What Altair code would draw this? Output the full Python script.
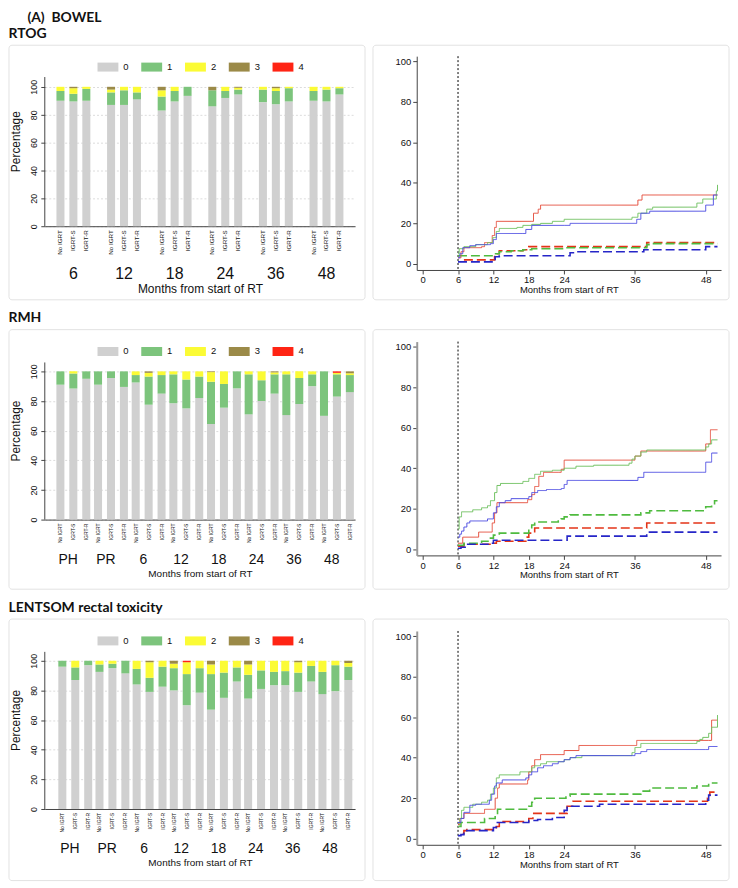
import altair as alt
import pandas as pd

FONT = "Liberation Sans"
TITLE_FONT = "Lato"

ARMS = ["No IGRT", "IGRT-S", "IGRT-R"]
GRADES = ["0", "1", "2", "3", "4"]
GRADE_COLORS = ["#d0d0d0", "#7cc47c", "#fbfb35", "#9b8a48", "#ff2414"]

# ---------------- stacked bar data (order: group x [No IGRT, IGRT-S, IGRT-R]) ----------
RTOG_GROUPS = ["6", "12", "18", "24", "36", "48"]
RTOG_G0 = [90, 89.5, 90, 87, 87, 91, 83, 89.5, 93.5, 86, 92, 94.5, 89, 87.5, 89.5, 90, 89.5, 94.5]
RTOG_G1 = [7, 5.5, 8.5, 9, 10.5, 5, 10, 7.5, 6.5, 11.5, 5, 3.5, 9, 9.5, 9.5, 7, 8.5, 4.5]
RTOG_G2 = [3, 4, 1.5, 2, 2.5, 4, 4.5, 3, 0, 0, 3, 1.3, 2, 2, 1, 3, 2, 1]
RTOG_G3 = [0, 1, 0, 2, 0, 0, 2.5, 0, 0, 2.5, 0, 0.7, 0, 1, 0, 0, 0, 0]
RTOG_G4 = [0, 0, 0, 0, 0, 0, 0, 0, 0, 0, 0, 0, 0, 0, 0, 0, 0, 0]

LONG_GROUPS = ["PH", "PR", "6", "12", "18", "24", "36", "48"]
RMH_G0 = [91, 88.5, 95, 91, 95.5, 89.5, 92.5, 77.5, 85, 78.5, 75, 82, 64.5, 75.5, 88.5, 71, 80, 85, 70.5, 78, 90, 70, 83, 86]
RMH_G1 = [9, 10, 5, 9, 4.5, 10.5, 5, 19, 12.5, 19.5, 19.5, 14.5, 28.5, 16, 11.5, 27, 14, 13, 27.5, 17.5, 8, 30, 15, 11.5]
RMH_G2 = [0, 1.5, 0, 0, 0, 0, 2.5, 2.5, 2.5, 2, 5.5, 3.5, 6.5, 8.5, 0, 2, 6, 1.3, 2, 4.5, 2, 0, 1, 1.2]
RMH_G3 = [0, 0, 0, 0, 0, 0, 0, 1, 0, 0, 0, 0, 0.5, 0, 0, 0, 0, 0.7, 0, 0, 0, 0, 0, 1.3]
RMH_G4 = [0, 0, 0, 0, 0, 0, 0, 0, 0, 0, 0, 0, 0, 0, 0, 0, 0, 0, 0, 0, 0, 0, 1, 0]

LEN_G0 = [96, 87, 97, 92.5, 95, 91.5, 84, 79, 82.5, 80, 70, 78.5, 67, 75, 86, 74.5, 81, 83.5, 83.5, 79, 86, 77.5, 79.5, 87]
LEN_G1 = [4, 8.5, 3, 5, 3, 8.5, 10.5, 9.5, 13.5, 15, 21, 16.5, 24, 17, 9.5, 16, 12.5, 9, 9.5, 13, 10.5, 15, 17.5, 9]
LEN_G2 = [0, 4.5, 0, 2.5, 2, 0, 5.5, 10.5, 4, 3, 8, 5, 6.5, 8, 4.5, 7, 6.5, 7.5, 7, 7, 3.5, 7.5, 3, 2.5]
LEN_G3 = [0, 0, 0, 0, 0, 0, 0, 1, 0, 2, 0, 0, 2.5, 0, 0, 2.5, 0, 0, 0, 1, 0, 0, 0, 1.5]
LEN_G4 = [0, 0, 0, 0, 0, 0, 0, 0, 0, 0, 1, 0, 0, 0, 0, 0, 0, 0, 0, 0, 0, 0, 0, 0]

# ---------------- cumulative incidence step curves (months, %) ----------------
KM_SERIES = ["No IGRT G2+", "IGRT-S G2+", "IGRT-R G2+", "No IGRT G1+", "IGRT-S G1+", "IGRT-R G1+"]
KM_COLORS = ["#e33418", "#4fbb3f", "#2626c8", "#e5503e", "#6fc160", "#4e4ee2"]
KM_DASH = [[9, 4], [9, 4], [9, 4], [1, 0], [1, 0], [1, 0]]
KM_WIDTHS = [1.6, 1.6, 1.6, 1, 1, 1]

RTOG_RED_S = [(6, 3), (6.5, 6), (7, 8), (10, 8.5), (10.5, 10.5), (11.8, 14), (12.2, 18), (12.5, 21), (18.5, 21), (18.8, 25), (19.6, 27), (20, 29), (36.3, 29), (36.5, 31.5), (37.2, 34), (50, 34)]
RTOG_GREEN_S = [(6, 5), (6.2, 7.5), (7, 8.5), (9, 9.5), (11, 10.5), (11.9, 13), (12.5, 16), (13, 17.5), (16, 18), (17, 19), (18.5, 19.5), (20, 20), (22, 21), (24, 22), (35, 22), (35.5, 23), (36.5, 25), (38, 27), (39, 28), (46, 28), (46.5, 30), (47.5, 32), (49.6, 32), (49.8, 36), (50, 39)]
RTOG_BLUE_S = [(6, 3), (6.3, 5), (6.8, 8), (8, 9), (9, 9.5), (11.5, 10), (12, 12), (12.5, 15), (17, 15), (17.5, 17), (18.5, 19), (24, 19), (25, 20), (36, 20), (36.3, 22), (37, 25), (38.5, 26), (47.5, 26), (48, 29), (49.3, 34), (50, 34)]
RTOG_RED_D = [(7, 2), (12, 2), (12.2, 5), (13, 6.5), (17, 7), (18, 8.5), (37.5, 8.5), (38, 10.5), (50, 10.5)]
RTOG_GREEN_D = [(6, 4), (11.5, 4), (12, 5), (13, 6), (15, 6.5), (17, 7), (18.5, 7.5), (24, 8), (37.5, 8), (38, 9.5), (39, 10), (50, 10)]
RTOG_BLUE_D = [(6, 1), (11.8, 1), (12.3, 3.5), (13, 4), (24.5, 4), (25, 5.5), (26, 6), (37, 6), (37.5, 7), (47.8, 7), (48, 8.5), (50, 8.5)]

RMH_RED_S = [(6, 3), (6.8, 6), (9.5, 8.5), (11.8, 13), (12.2, 18), (12.6, 23), (17.5, 23), (17.8, 24.5), (18.5, 27), (19, 31), (19.7, 36), (20.5, 38), (23, 38), (23.5, 39.5), (24, 44), (35.5, 44), (36, 46), (37, 48.5), (47.8, 48.5), (48, 52), (48.8, 59), (50, 59)]
RMH_GREEN_S = [(6, 10), (6.2, 16), (6.6, 18.5), (8.5, 19.5), (10, 20.5), (11, 21.5), (11.5, 24), (12.2, 28), (12.6, 31.5), (13.2, 32.5), (17, 33.5), (18, 35), (19, 37), (20, 38.5), (22, 39), (24, 40), (26, 41), (29, 41.5), (35, 42.5), (35.5, 44.5), (36, 46), (37, 48), (38, 49), (47.5, 49), (48, 50.5), (48.5, 52), (49, 54), (50, 54)]
RMH_BLUE_S = [(6, 6), (6.3, 7.5), (6.6, 9), (7, 11), (7.5, 13), (8, 14), (10.5, 14), (11, 15), (11.5, 15), (12, 18), (12.5, 21), (13, 23), (14, 24), (15, 25), (17.5, 25), (18, 26), (18.5, 28), (19.5, 29), (21, 29.5), (23, 29.5), (23.5, 30), (24, 32), (24.5, 34), (36, 34), (36.5, 35.5), (37.5, 38), (47.5, 38), (48, 43), (49, 47.5), (50, 47.5)]
RMH_RED_D = [(6, 1.5), (7, 2.5), (12, 3), (12.5, 4), (17, 4), (17.5, 6), (18, 8), (19, 10.5), (37.5, 10.5), (38, 13), (50, 13)]
RMH_GREEN_D = [(6, 2), (7, 3), (10, 4), (11.5, 5.5), (12, 7), (13, 8), (17.5, 8), (18, 10), (18.5, 12), (19, 13.5), (23, 14), (23.5, 15), (24, 16), (25, 17), (36, 17), (37, 18), (38.5, 19), (47.5, 19), (48, 21), (49, 22), (49.5, 24), (50, 24)]
RMH_BLUE_D = [(6, 0.5), (6.5, 1), (7.5, 2.5), (11.5, 3), (12, 4.5), (24, 4.5), (24.5, 6.5), (37.5, 6.5), (38, 8.5), (50, 8.5)]

LEN_RED_S = [(6, 7), (6.3, 10), (7, 12.5), (10, 12.5), (10.5, 14.5), (12, 14.5), (12.3, 20), (12.7, 25), (13, 27), (17.5, 27), (17.8, 29), (18, 33), (18.5, 36), (19, 39), (20, 41.5), (23.5, 41.5), (24, 43.5), (26, 43.5), (26.5, 46), (36, 46), (36.3, 48.5), (48.5, 48.5), (49, 58.5), (50, 58.5)]
LEN_GREEN_S = [(6, 6), (6.3, 10), (6.6, 14), (7, 15.5), (8, 15.5), (8.5, 17), (10, 18), (11, 19), (11.5, 22), (12, 25), (12.5, 30), (13, 31.5), (16, 31.5), (16.5, 33), (18, 33), (18.5, 35), (19, 36), (20, 37), (21, 38), (24, 39), (25, 40), (27, 41), (35, 41), (35.5, 42.5), (36, 45), (37, 47), (46, 47), (46.5, 48), (47, 49), (47.5, 50), (48.5, 52), (49, 55), (49.7, 55), (50, 61)]
LEN_BLUE_S = [(6, 8), (6.5, 10), (7, 13), (8, 16.5), (9, 17), (11, 17), (11.3, 19), (11.7, 22), (12.2, 26), (12.5, 27.5), (13, 27.5), (13.5, 29), (17, 29), (17.5, 30), (18, 31.5), (18.5, 33), (19.5, 35), (20.5, 36), (22, 37), (23, 38), (24, 39), (25, 40), (26, 41), (35.5, 41), (36, 42), (37, 43), (38, 44), (48, 44), (48.5, 45.5), (50, 45.5)]
LEN_RED_D = [(6.8, 2.5), (7, 4), (7.5, 4.5), (12, 4.5), (12.5, 6), (13, 8.5), (17.5, 8.5), (18, 10), (18.7, 12.5), (23.5, 12.5), (24.5, 16), (25.5, 18.5), (48, 18.5), (48.3, 20), (48.7, 23), (50, 23)]
LEN_GREEN_D = [(6, 6), (6.5, 8), (10, 8), (10.5, 10), (12, 10), (12.3, 12), (12.7, 14.5), (17.5, 14.5), (18, 16), (18.5, 18), (19, 20), (24, 20), (24.3, 21), (25, 22), (36, 22), (37, 23.5), (38.5, 25), (46, 25), (46.5, 26), (48.5, 27.5), (50, 27.5)]
LEN_BLUE_D = [(6, 1.5), (6.5, 2), (7, 4), (11.5, 4), (12, 5.5), (12.5, 8), (17.5, 8), (18, 9), (19.5, 9.5), (22, 10.5), (23.5, 10.5), (24, 14), (24.5, 16), (27, 16), (30, 17), (47.5, 17), (48, 19), (48.5, 21.5), (50, 21.5)]

X_TITLE = "Months from start of RT"
TXT = "#111111"
AX = "#444444"
TOP_OFF = 21  # plot-area top of the bar panels is shared with the KM panels


def frame_layer(x1, x2, y1, y2):
    return alt.Chart(alt.Data(values=[{"f": 1}])).mark_rect(
        fillOpacity=0, stroke="#e2e2e2", strokeWidth=1, cornerRadius=3
    ).encode(x=alt.value(x1), x2=alt.value(x2), y=alt.value(y1), y2=alt.value(y2))


def bar_panel(groups, vals, w, h, ymax, gpi, gpo, opi, opo, arm_fs, grp_fs, grp_pad,
              title_fs, fy1, fy2, legend_y):
    H = h + TOP_OFF
    dmax = ymax * H / h
    rows = []
    for gi, g in enumerate(groups):
        for ai, a in enumerate(ARMS):
            for k, gr in enumerate(GRADES):
                v = vals[k][gi * 3 + ai]
                if v > 0:
                    rows.append({"group": g, "arm": a, "grade": gr, "pct": v})
    df = pd.DataFrame(rows)
    lab = pd.DataFrame([{"group": g, "arm": a} for g in groups for a in ARMS])

    xenc = alt.X("group:N", sort=groups,
                 scale=alt.Scale(paddingInner=gpi, paddingOuter=gpo),
                 axis=alt.Axis(title=X_TITLE, labelAngle=0, ticks=False, labelPadding=grp_pad,
                               labelFontSize=grp_fs, labelFont=FONT, labelColor=TXT,
                               titleFontSize=title_fs, titleFont=FONT, titleFontWeight="normal",
                               titleColor=TXT, titlePadding=2, domainColor=AX, grid=False))
    xoff = alt.XOffset("arm:N", sort=ARMS, scale=alt.Scale(paddingInner=opi, paddingOuter=opo))
    yenc = alt.Y("pct:Q", stack="zero", scale=alt.Scale(domain=[0, dmax], nice=False),
                 axis=alt.Axis(title="Percentage", values=[0, 20, 40, 60, 80, 100],
                               labelAngle=-90, labelAlign="center", labelBaseline="bottom",
                               labelFontSize=9, labelFont=FONT, labelColor=TXT, labelPadding=2,
                               tickSize=4, tickColor=AX, domain=False,
                               titleFontSize=12, titleFont=FONT, titleFontWeight="normal",
                               titleColor=TXT, titlePadding=7,
                               grid=True, gridDash=[2, 2], gridColor="#dcdcdc"))

    bars = alt.Chart(df).mark_bar().encode(
        x=xenc,
        xOffset=xoff,
        y=yenc,
        color=alt.Color("grade:N", scale=alt.Scale(domain=GRADES, range=GRADE_COLORS),
                        legend=alt.Legend(title=None, orient="none", legendX=53,
                                          legendY=legend_y + TOP_OFF,
                                          direction="horizontal", columns=5,
                                          symbolType="M-1,-0.43H1V0.43H-1Z", symbolSize=441,
                                          symbolStrokeWidth=0, symbolOpacity=1,
                                          labelFontSize=9.5, labelFont=FONT, labelColor=TXT,
                                          labelOffset=5, columnPadding=12, padding=0)),
        order=alt.Order("grade:N", sort="ascending"),
    )
    # y-axis line, from 0 up to the top of the value axis
    axis_line = alt.Chart(alt.Data(values=[{"pct": 0, "pct_top": ymax}])).mark_rule(
        color=AX, strokeWidth=1).encode(x=alt.value(0), y=yenc, y2="pct_top:Q")
    labels = alt.Chart(lab).mark_text(angle=270, align="right", baseline="middle",
                                      fontSize=arm_fs, font=FONT, color=TXT).encode(
        x=xenc, xOffset=xoff, y=alt.value(H + 4), text="arm:N")
    return alt.layer(frame_layer(-36, w + 10, fy1 + TOP_OFF, fy2 + TOP_OFF),
                     bars, axis_line, labels).properties(width=w, height=H)


def km_panel(series_pts, w, h, fy1, fy2, dom_color, dom_width):
    xenc = alt.X("t:Q", scale=alt.Scale(domain=[-1, 50.6], nice=False, zero=False),
                 axis=alt.Axis(values=[0, 6, 12, 18, 24, 36, 48], title=X_TITLE, grid=False,
                               labelFontSize=9.5, labelFont=FONT, labelColor=TXT, labelPadding=1,
                               tickSize=4, tickColor=AX, domainColor=AX,
                               titleFontSize=9.5, titleFont=FONT, titleFontWeight="normal",
                               titleColor=TXT, titlePadding=0))
    yenc = alt.Y("v:Q", scale=alt.Scale(domain=[-3, 102.5], nice=False, zero=False),
                 axis=alt.Axis(values=[0, 20, 40, 60, 80, 100], title=None, grid=False,
                               labelFontSize=9.5, labelFont=FONT, labelColor=TXT, labelPadding=2,
                               tickSize=4, tickColor=AX, domainColor=dom_color,
                               domainWidth=dom_width))
    layers = [frame_layer(-44, w + 8, fy1, fy2)]
    rule = alt.Chart(alt.Data(values=[{"t": 6}])).mark_rule(
        strokeDash=[2, 2], color="#000000", strokeWidth=1).encode(x=xenc)
    layers.append(rule)
    for name, pts, col, dash, sw in zip(KM_SERIES, series_pts, KM_COLORS, KM_DASH, KM_WIDTHS):
        df = pd.DataFrame({"t": [p[0] for p in pts], "v": [p[1] for p in pts]})
        layers.append(alt.Chart(df).mark_line(interpolate="step-after", color=col,
                                              strokeDash=dash, strokeWidth=sw).encode(x=xenc, y=yenc))
    return alt.layer(*layers).properties(width=w, height=h)


def row_title(text):
    return alt.TitleParams(text, anchor="start", fontSize=14, font=TITLE_FONT,
                           fontWeight="bold", color=TXT, offset=4)


bar1 = bar_panel(RTOG_GROUPS, [RTOG_G0, RTOG_G1, RTOG_G2, RTOG_G3, RTOG_G4], 312, 150, 107,
                 0.2, 0.165, 0.38, 0.255, 6.3, 16, 40, 12, -32, 224, -21)
km1 = km_panel([RTOG_RED_D, RTOG_GREEN_D, RTOG_BLUE_D, RTOG_RED_S, RTOG_GREEN_S, RTOG_BLUE_S],
               306, 215, -11, 245, AX, 1)

bar2 = bar_panel(LONG_GROUPS, [RMH_G0, RMH_G1, RMH_G2, RMH_G3, RMH_G4], 312, 158, 106,
                 0.2, 0.22, 0.4, 0.215, 5, 14, 33, 10, -33, 228, -22)
km2 = km_panel([RMH_RED_D, RMH_GREEN_D, RMH_BLUE_D, RMH_RED_S, RMH_GREEN_S, RMH_BLUE_S],
               306, 215, -12, 249, "#999999", 2)

bar3 = bar_panel(LONG_GROUPS, [LEN_G0, LEN_G1, LEN_G2, LEN_G3, LEN_G4], 312, 158, 106,
                 0.2, 0.275, 0.35, 0.1, 5, 14, 33, 10, -33, 230, -22)
km3 = km_panel([LEN_RED_D, LEN_GREEN_D, LEN_BLUE_D, LEN_RED_S, LEN_GREEN_S, LEN_BLUE_S],
               306, 215, -12, 251, "#999999", 2)

row1 = alt.hconcat(bar1, km1, spacing=6).properties(title=row_title("RTOG"))
row2 = alt.hconcat(bar2, km2, spacing=6).properties(title=row_title("RMH"))
row3 = alt.hconcat(bar3, km3, spacing=6).properties(title=row_title("LENTSOM rectal toxicity"))

chart = alt.vconcat(row1, row2, row3, spacing=10).properties(
    title=alt.TitleParams("(A)\u00a0\u00a0BOWEL", anchor="start", dx=19, fontSize=14,
                          font=TITLE_FONT, fontWeight="bold", color=TXT, offset=2),
    padding=0,
).resolve_scale(color="independent").resolve_legend(color="independent").configure(
    font=FONT).configure_view(stroke=None)

chart.save("out.html", embed_options={"renderer": "svg", "actions": False})
